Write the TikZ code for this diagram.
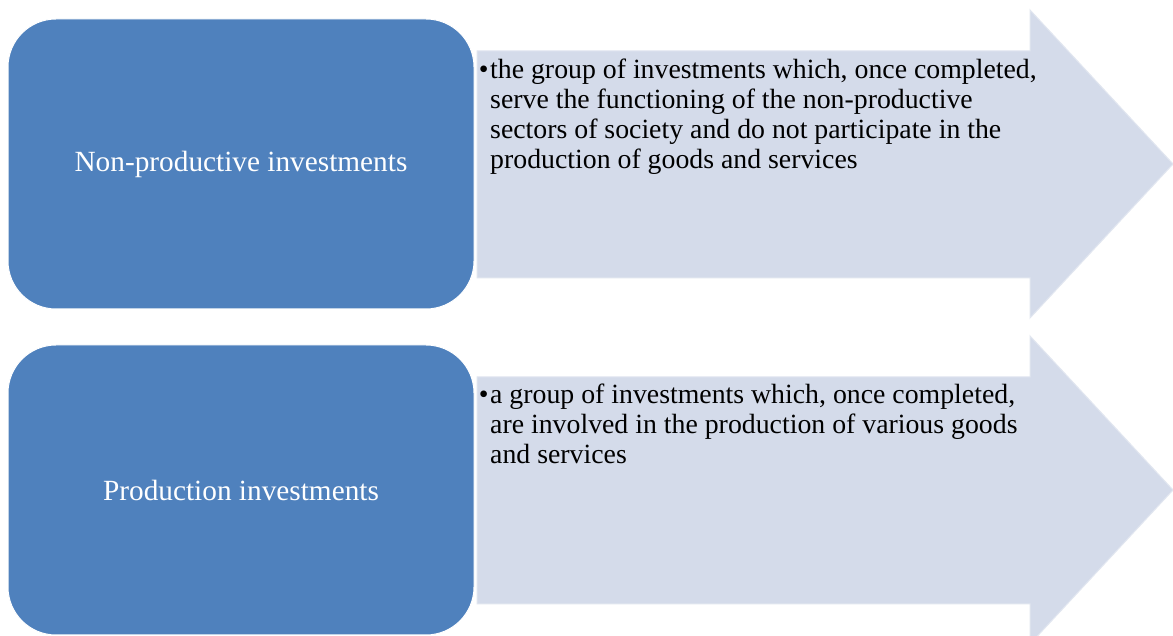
\documentclass[tikz,border=0pt]{standalone}
\usepackage{fontspec}
\setmainfont{Liberation Serif}
\usepackage{tikz}
\definecolor{boxblue}{HTML}{4F81BD}
\definecolor{arrowgray}{HTML}{D4DBEA}
\tikzset{
  invbox/.style={rectangle, rounded corners=48pt, fill=boxblue, draw=white, line width=1pt,
    minimum width=466pt, minimum height=290pt, inner sep=0pt, text=white,
    font=\fontsize{29.3}{32}\selectfont},
  invarrow/.style={fill=arrowgray, draw=arrowgray!70!white, line width=1pt},
  invtext/.style={anchor=north west, inner sep=0pt, align=left,
    font=\fontsize{27.8}{30}\selectfont}
}
\begin{document}
\begin{tikzpicture}[x=1pt,y=1pt]
 \useasboundingbox (0,0) rectangle (1173,636);
 \clip (0,0) rectangle (1173,636);
 \fill[white] (0,0) rectangle (1173,636);

 \path[invarrow] (477,585)--++(553,0)--++(0,41)--(1173,472)--(1030,318)--++(0,40)--++(-553,0)--cycle;
 \node[invbox] (nonprod) at (241,472) {Non-productive investments};
 \node[invtext] (nonproddesc) at (490,577) {\llap{\textbullet\kern1.5pt}the group of investments which, once completed,\\
   serve the functioning of the non-productive\\
   sectors of society and do not participate in the\\
   production of goods and services};
 %%%%%%%%%%%%%%%%%%%%%%%%%%%%%%%%%%%
 \path[invarrow] (477,259)--++(553,0)--++(0,41)--(1173,146)--(1030,-8)--++(0,40)--++(-553,0)--cycle;
 \node[invbox] (prod) at (241,146) {Production investments};
 \node[invtext] (proddesc) at (490,252) {\llap{\textbullet\kern1.5pt}a group of investments which, once completed,\\
   are involved in the production of various goods\\
   and services};
\end{tikzpicture}
\end{document}
